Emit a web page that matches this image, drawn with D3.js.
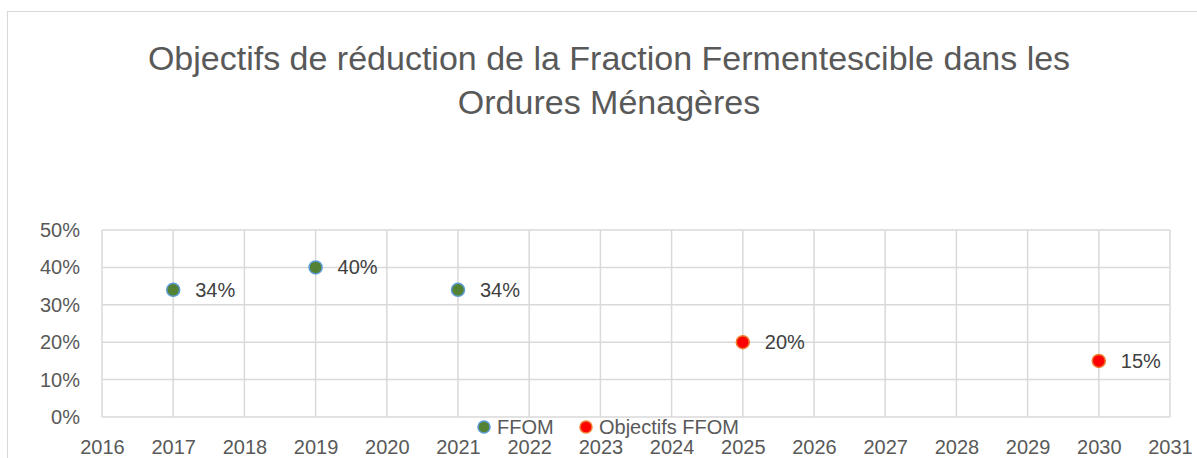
<!DOCTYPE html>
<html>
<head>
<meta charset="utf-8">
<script src="https://cdn.jsdelivr.net/npm/d3@7"></script>
<style>
  body { margin: 0; background: #fff; }
  svg text { font-family: "Liberation Sans", Arial, sans-serif; }
</style>
</head>
<body>
<div id="chart"></div>
<script>
// Data
const ffomYears = [2017, 2019, 2021];
const ffomValues = [0.34, 0.40, 0.34];
const goalYears = [2025, 2030];
const goalValues = [0.20, 0.15];
const xTicks = d3.range(2016, 2032);
const yTicks = [0, 0.1, 0.2, 0.3, 0.4, 0.5];
const titleLines = ["Objectifs de réduction de la Fraction Fermentescible dans les", "Ordures Ménagères"];
const seriesNames = ["FFOM", "Objectifs FFOM"];

const W = 1197, H = 458;
const plot = {left: 102, top: 230, right: 1170, bottom: 417};

const svg = d3.select("#chart").append("svg")
  .attr("width", W)
  .attr("height", H);

// Chart frame (cut off on right and bottom)
svg.append("rect")
  .attr("x", 7.5).attr("y", 11.5)
  .attr("width", W + 20).attr("height", H + 20)
  .style("fill", "#fff")
  .style("stroke", "#d9d9d9")
  .style("stroke-width", 1);

const x = d3.scaleLinear().domain([2016, 2031]).range([plot.left, plot.right]);
const y = d3.scaleLinear().domain([0, 0.5]).range([plot.bottom, plot.top]);

// Title
svg.append("text")
  .attr("text-anchor", "middle")
  .style("font-size", "34px")
  .style("fill", "#595959")
  .selectAll("tspan")
  .data(titleLines)
  .enter()
  .append("tspan")
  .attr("x", 609)
  .attr("y", (d, i) => 70 + i * 44)
  .text(d => d);

// Gridlines
svg.append("g")
  .selectAll("line")
  .data(xTicks)
  .enter().append("line")
  .attr("x1", d => x(d)).attr("x2", d => x(d))
  .attr("y1", plot.top).attr("y2", plot.bottom)
  .style("stroke", "#d9d9d9").style("stroke-width", 1.5);

svg.append("g")
  .selectAll("line")
  .data(yTicks)
  .enter().append("line")
  .attr("x1", plot.left).attr("x2", plot.right)
  .attr("y1", d => y(d)).attr("y2", d => y(d))
  .style("stroke", "#d9d9d9").style("stroke-width", 1.5);

// Axes labels
const yAxis = d3.axisLeft(y).tickValues(yTicks).tickFormat(d3.format(".0%")).tickSize(0).tickPadding(22);
const gy = svg.append("g").attr("transform", `translate(${plot.left},0)`).call(yAxis);
gy.select(".domain").remove();
gy.selectAll("text").style("font-size", "20px").style("fill", "#595959");

const xAxis = d3.axisBottom(x).tickValues(xTicks).tickFormat(d3.format("d")).tickSize(0).tickPadding(23);
const gx = svg.append("g").attr("transform", `translate(0,${plot.bottom})`).call(xAxis);
gx.select(".domain").remove();
gx.selectAll("text").style("font-size", "20px").style("fill", "#595959");

// Series
function drawSeries(years, values, fill, stroke) {
  const pts = years.map((yr, i) => ({year: yr, value: values[i]}));
  svg.append("g").selectAll("circle")
    .data(pts)
    .enter().append("circle")
    .attr("cx", d => x(d.year))
    .attr("cy", d => y(d.value))
    .attr("r", 6.5)
    .style("fill", fill)
    .style("stroke", stroke)
    .style("stroke-width", 1.5);
  svg.append("g").selectAll("text")
    .data(pts)
    .enter().append("text")
    .attr("x", d => x(d.year) + 22)
    .attr("y", d => y(d.value))
    .attr("dy", "0.35em")
    .style("font-size", "20px")
    .style("fill", "#404040")
    .text(d => d3.format(".0%")(d.value));
}
drawSeries(ffomYears, ffomValues, "#548235", "#5b9bd5");
drawSeries(goalYears, goalValues, "#ff0000", "#ed7d31");

// Legend
const legend = [
  {name: seriesNames[0], fill: "#548235", stroke: "#5b9bd5", cx: 484},
  {name: seriesNames[1], fill: "#ff0000", stroke: "#ed7d31", cx: 586}
];
const lg = svg.append("g").selectAll("g").data(legend).enter().append("g");
lg.append("circle")
  .attr("cx", d => d.cx).attr("cy", 427).attr("r", 6)
  .style("fill", d => d.fill).style("stroke", d => d.stroke).style("stroke-width", 1.5);
lg.append("text")
  .attr("x", d => d.cx + 13).attr("y", 427).attr("dy", "0.35em")
  .style("font-size", "20px").style("fill", "#595959")
  .text(d => d.name);
</script>
</body>
</html>
